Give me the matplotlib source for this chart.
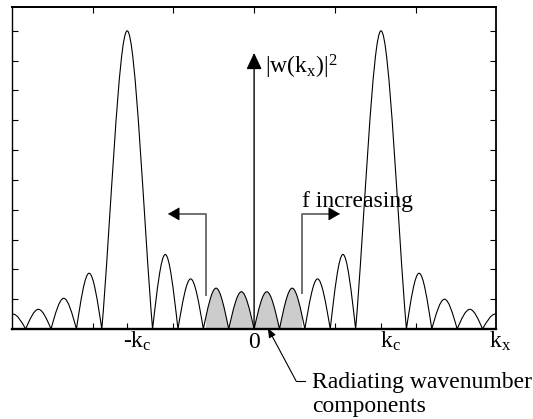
#!/usr/bin/env python3
"""Sketch of |w(kx)|^2 with the radiating wavenumber band shaded."""

import matplotlib
matplotlib.use("Agg")
import matplotlib.pyplot as plt
import numpy as np
from matplotlib.path import Path
from matplotlib.patches import PathPatch, Rectangle, FancyArrowPatch

plt.rcParams["font.family"] = "Liberation Serif"
plt.rcParams["mathtext.fontset"] = "custom"
plt.rcParams["mathtext.rm"] = "Liberation Serif"
plt.rcParams["mathtext.it"] = "Liberation Serif:italic"

KC = np.pi / 2  # kc on an axis running from -3 to 3

# nulls of the curve, in units of kc/5 (the main lobes sit at +-kc)
null_index = [-10, -9, -8, -7, -6, -4, -3, -2, -1, 0, 1, 2, 3, 4, 6, 7, 8, 9, 10]
# peak height of each lobe, left to right
lobe_peak = [0.05, 0.066, 0.103, 0.187, 1.0, 0.25, 0.168, 0.137, 0.125,
             0.125, 0.137, 0.168, 0.25, 1.0, 0.187, 0.10, 0.066, 0.05]
# radiating band (shaded)
band = (-0.595, 0.59)

MAIN_SHAPE = 1 / 3   # sinc-like main lobes
SIDE_SHAPE = 0.5     # rounder side lobes


def curve_path(edges, peaks):
    verts = [(edges[0], 0.0)]
    codes = [Path.MOVETO]
    for x0, x1, h in zip(edges[:-1], edges[1:], peaks):
        hw = (x1 - x0) / 2
        xm = x0 + hw
        k = MAIN_SHAPE if h > 0.5 else SIDE_SHAPE
        verts += [(x0 + hw / 3, k * h), (xm - hw / 3, h), (xm, h),
                  (xm + hw / 3, h), (x1 - hw / 3, k * h), (x1, 0.0)]
        codes += [Path.CURVE4] * 6
    return Path(verts, codes)


fig = plt.figure(figsize=(5.33, 4.19), dpi=100)
ax = fig.add_axes([0.022, 0.2148, 0.9095, 0.7685])
ax.set_xlim(-3, 3)
ax.set_ylim(0, 1.08)

edges = np.array(null_index) * KC / 5
path = curve_path(edges, lobe_peak)

shade = PathPatch(path, facecolor="#cccccc", edgecolor="none", zorder=1)
ax.add_patch(shade)
shade.set_clip_path(Rectangle((band[0], 0), band[1] - band[0], 2, transform=ax.transData))
ax.add_patch(PathPatch(path, facecolor="none", edgecolor="black", lw=0.8, zorder=2))

# spines and ticks
for side, lw in [("left", 1.0), ("right", 1.3), ("top", 1.3), ("bottom", 1.7)]:
    ax.spines[side].set_linewidth(lw)
ax.set_yticks(np.arange(0.1, 1.01, 0.1))
ax.set_xticks([-2, -KC, -1, 0, 1, KC, 2])
ax.tick_params(direction="in", length=4, width=0.8, left=True, right=True,
               labelleft=False, labelbottom=False)
top = ax.secondary_xaxis("top")
top.set_xticks([-2, -1, 0, 1, 2])
top.tick_params(direction="in", length=4, width=0.8, labeltop=False)
top.spines["top"].set_linewidth(1.3)

# axis labels drawn as text
label_y = -0.064
ax.text(-1.444, label_y, r"-$\mathrm{k_c}$", ha="center", va="baseline", fontsize=17)
ax.text(0.0, label_y, "0", ha="center", va="baseline", fontsize=17)
ax.text(1.69, label_y, r"$\mathrm{k_c}$", ha="center", va="baseline", fontsize=17)
ax.text(3.04, label_y, r"$\mathrm{k_x}$", ha="center", va="baseline", fontsize=17)

# vertical axis arrow
ax.add_patch(FancyArrowPatch((0, 0), (0, 0.926), arrowstyle="-|>,head_length=10,head_width=4.7",
                             mutation_scale=1, color="black", lw=1.0, shrinkA=0, shrinkB=0,
                             zorder=3))
ax.text(0.135, 0.857, r"$|\mathrm{w(k_x)}|^2$", ha="left", va="baseline", fontsize=17)

# f increasing arrows
gray = "#707070"
ax.plot([band[0], band[0], -1.0], [0.114, 0.386, 0.386], color=gray, lw=1.4, zorder=3)
ax.plot([band[1], band[1], 1.0], [0.121, 0.386, 0.386], color=gray, lw=1.4, zorder=3)
for start, tip in [(-0.94, -1.066), (0.94, 1.063)]:
    ax.add_patch(FancyArrowPatch((start, 0.386), (tip, 0.386),
                                 arrowstyle="-|>,head_length=7.5,head_width=4.3",
                                 mutation_scale=1, color="black", lw=0.5,
                                 shrinkA=0, shrinkB=0, zorder=4))
ax.text(0.589, 0.41, "f increasing", ha="left", va="baseline", fontsize=17)

# radiating components callout
ax.annotate("", xy=(0.17, 0.003), xytext=(0.519, -0.174), annotation_clip=False,
            arrowprops=dict(arrowstyle="-|>,head_length=0.55,head_width=0.22",
                            color="black", lw=0.8, shrinkA=0, shrinkB=0))
ax.plot([0.519, 0.63], [-0.174, -0.174], color="black", lw=0.8, clip_on=False)
fig.text(312 / 533, 1 - 388 / 419, "Radiating wavenumber", ha="left", va="baseline", fontsize=17)
fig.text(312 / 533, 1 - 412 / 419, "components", ha="left", va="baseline", fontsize=17)

fig.savefig("out.png", dpi=100)
